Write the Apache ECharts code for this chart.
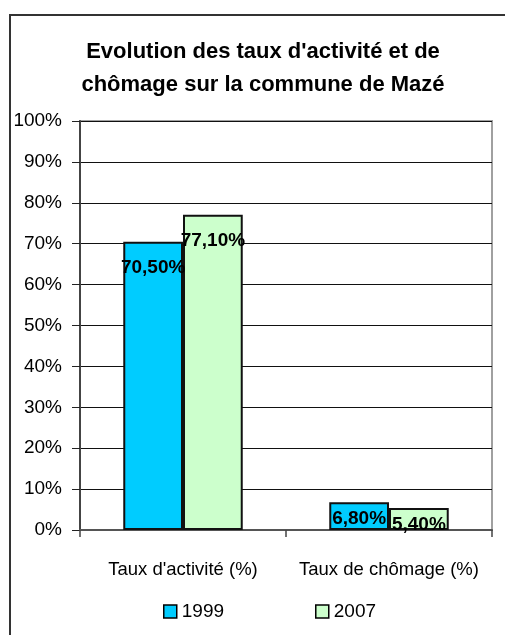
<!DOCTYPE html>
<html>
<head>
<meta charset="utf-8">
<script src="https://cdn.jsdelivr.net/npm/echarts@6/dist/echarts.min.js"></script>
<style>
  html, body { margin: 0; padding: 0; background: #fff; }
  #chart { width: 505px; height: 635px; }
</style>
</head>
<body>
<div id="chart"></div>
<script>
// données
const categories = ["Taux d'activité (%)", "Taux de chômage (%)"];
const years = ["1999", "2007"];
const values1999 = [70.5, 6.8];
const values2007 = [77.1, 5.4];
const yTicks = [0, 10, 20, 30, 40, 50, 60, 70, 80, 90, 100];

const FONT = "'Liberation Sans', Arial, sans-serif";

function fmt(v) {
  return v.toFixed(2).replace(".", ",") + "%";
}

function barData(values) {
  return values.map((v) => {
    return {
      value: v,
      label: { distance: v > 20 ? 17 : 7 },
    };
  });
}

const chart = echarts.init(document.getElementById("chart"));

const barLabel = {
  show: true,
  position: "insideTop",
  color: "#000",
  fontFamily: FONT,
  fontWeight: "bold",
  fontSize: 19,
  formatter: (p) => fmt(p.value),
};

const option = {
  animation: false,
  backgroundColor: "#fff",
  textStyle: { fontFamily: FONT },
  title: {
    text: "Evolution des taux d'activité et de\nchômage sur la commune de Mazé",
    left: 258,
    textAlign: "center",
    top: 30,
    textStyle: {
      fontFamily: FONT,
      fontWeight: "bold",
      fontSize: 22,
      lineHeight: 33,
      color: "#000",
    },
  },
  legend: {
    data: years,
    left: 158,
    top: 597,
    icon: "rect",
    itemWidth: 13,
    itemHeight: 13,
    itemGap: 91,
    itemStyle: { borderColor: "#000", borderWidth: 1.5 },
    textStyle: { fontFamily: FONT, fontSize: 19, color: "#000" },
  },
  grid: {
    left: 80,
    right: 13,
    top: 121,
    bottom: 105,
    show: true,
    borderColor: "#a0a0a0",
    borderWidth: 2,
  },
  xAxis: {
    type: "category",
    data: categories,
    axisLine: { show: true, lineStyle: { color: "#555", width: 2 } },
    axisTick: { show: true, length: 7, lineStyle: { color: "#444", width: 1.5 } },
    axisLabel: { interval: 0, color: "#000", fontFamily: FONT, fontSize: 18.5, margin: 30 },
  },
  yAxis: {
    type: "value",
    min: 0,
    max: 100,
    interval: 10,
    axisLine: { show: true, lineStyle: { color: "#444", width: 2 } },
    axisTick: { show: true, length: 8, lineStyle: { color: "#222" } },
    splitLine: { show: true, lineStyle: { color: "#111", width: 1 } },
    axisLabel: {
      color: "#000",
      fontFamily: FONT,
      fontSize: 19,
      margin: 18,
      formatter: (v) => (yTicks.indexOf(v) >= 0 ? v + "%" : ""),
    },
  },
  series: [
    {
      name: years[0],
      type: "bar",
      data: barData(values1999),
      barGap: "0%",
      barCategoryGap: "42%",
      itemStyle: { color: "#00CCFF", borderColor: "#111", borderWidth: 2 },
      label: barLabel,
    },
    {
      name: years[1],
      type: "bar",
      data: barData(values2007),
      itemStyle: { color: "#CCFFCC", borderColor: "#111", borderWidth: 2 },
      label: barLabel,
    },
  ],
  graphic: [
    {
      type: "rect",
      shape: { x: 10, y: 15, width: 600, height: 700 },
      style: { fill: null, stroke: "#333", lineWidth: 2 },
      silent: true,
      z: -1,
    },
  ],
};

chart.setOption(option);
</script>
</body>
</html>
